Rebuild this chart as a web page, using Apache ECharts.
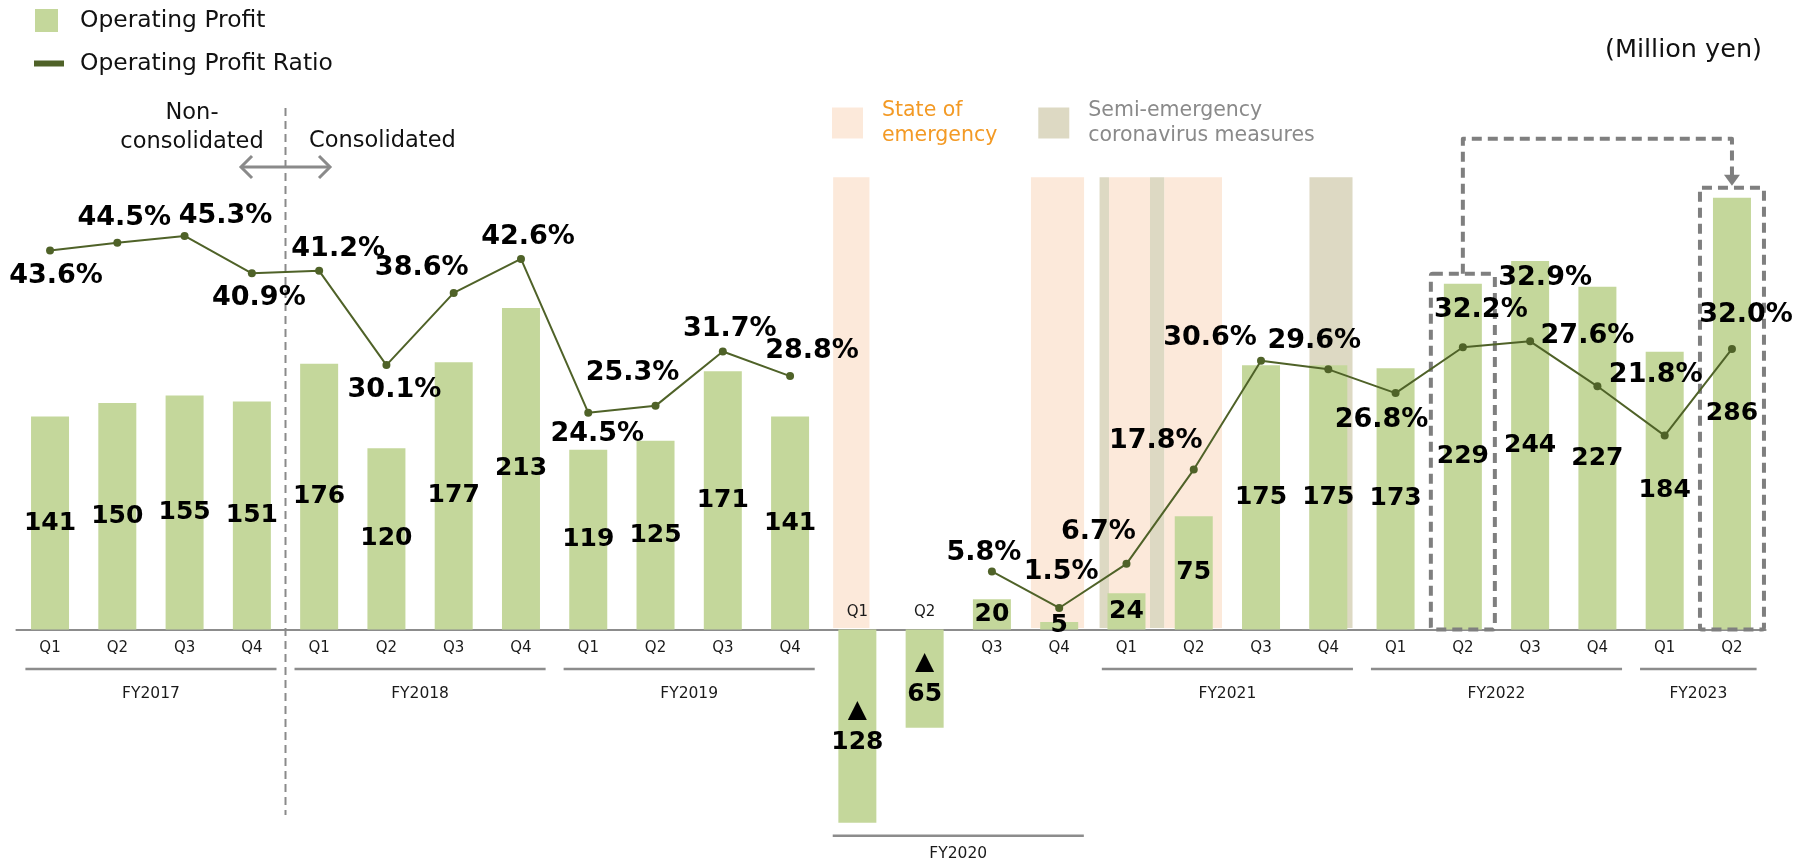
<!DOCTYPE html>
<html>
<head>
<meta charset="utf-8">
<script src="https://cdn.jsdelivr.net/npm/echarts@6/dist/echarts.min.js"></script>
<style>
  html, body { margin: 0; padding: 0; background: #ffffff; }
  #chart { width: 1813px; height: 861px; }
</style>
</head>
<body>
<div id="chart"></div>
<script>
// ---------------- data ----------------
const quarters = ['Q1','Q2','Q3','Q4','Q1','Q2','Q3','Q4','Q1','Q2','Q3','Q4',
                  'Q1','Q2','Q3','Q4','Q1','Q2','Q3','Q4','Q1','Q2','Q3','Q4','Q1','Q2'];
const operatingProfit = [141,150,155,151, 176,120,177,213, 119,125,171,141,
                         -128,-65,20,5, 24,75,175,175, 173,229,244,227, 184,286];
const profitRatio = [43.6,44.5,45.3,40.9, 41.2,30.1,38.6,42.6, 24.5,25.3,31.7,28.8,
                     null,null,5.8,1.5, 6.7,17.8,30.6,29.6, 26.8,32.2,32.9,27.6, 21.8,32.0];
const fiscalYears = ['FY2017','FY2018','FY2019','FY2020','FY2021','FY2022','FY2023'];
const fyFirst = [0,4,8,12,16,20,24];
const fyLast  = [3,7,11,15,19,23,25];
// periods in category units (quarter index, fractional = position within the quarter)
const emergencyPeriods = [[11.64,12.18],[14.58,15.37],[15.74,16.35],[16.56,17.42]];
const semiEmergencyPeriods = [[15.60,15.74],[16.35,16.56],[18.72,19.36]];
const consolidationBoundary = 3.5;   // between FY2017 Q4 and FY2018 Q1
const compareFrom = 21, compareTo = 25; // FY2022 Q2 -> FY2023 Q2
const shadeTop = 299.5;

// ---------------- layout / style (not data) ----------------
const FONT = "'DejaVu Sans', Verdana, sans-serif";
const ratioLabelOffsets = [
  [6,26],[7,-25],[41,-20],[7,25],[19,-22],[8,25],[-32,-25],[7,-22],[9,21],[-23,-33],[7,-23],[22,-25],
  null,null,
  [-8,-18],[2,-36],[-28,-32],[-38,-29],[-51,-23],[-14,-28],[-14,27],[18,-37],[15,-63],[-10,-50],[-9,-61],[14,-34]
];
const BAR_COLOR = '#C4D79B';
const LINE_COLOR = '#4F6228';
const EMERG_COLOR = '#FCE9DA';
const SEMI_COLOR = '#DDD9C3';

function shadeRender(color) {
  return function (params, api) {
    const start = api.value(2), end = api.value(3);
    const c0 = api.coord([0, 0]);
    const band = api.size([1, 0])[0];
    const x1 = c0[0] + start * band, x2 = c0[0] + end * band;
    const yTop = api.coord([0, shadeTop])[1];
    const yBot = c0[1] - 1.5;
    return { type: 'rect', shape: { x: x1, y: yTop, width: x2 - x1, height: yBot - yTop },
             style: { fill: color } };
  };
}

const chart = echarts.init(document.getElementById('chart'), null, { renderer: 'canvas' });

const option = {
  animation: false,
  backgroundColor: '#ffffff',
  textStyle: { fontFamily: FONT },
  title: {
    text: '(Million yen)', right: 51, top: 37, padding: 0,
    textStyle: { fontSize: 25.5, fontWeight: 'normal', color: '#111', fontFamily: FONT }
  },
  legend: [
    {
      data: ['Operating Profit'], left: 35, top: 9, padding: 0, icon: 'rect',
      itemWidth: 23, itemHeight: 23, selectedMode: false,
      textStyle: { fontSize: 23.4, color: '#111', fontFamily: FONT, padding: [0, 0, 0, 17] }
    },
    {
      data: ['Operating Profit Ratio'], left: 34, top: 52, padding: 0, icon: 'rect',
      itemWidth: 30, itemHeight: 6, selectedMode: false,
      textStyle: { fontSize: 23.4, color: '#111', fontFamily: FONT, padding: [0, 0, 0, 11] }
    },
    {
      data: [
        { name: 'State of emergency', textStyle: { color: '#F39A25' }, itemStyle: { color: EMERG_COLOR } },
        { name: 'Semi-emergency coronavirus measures', textStyle: { color: '#8A8A8A' }, itemStyle: { color: SEMI_COLOR } }
      ],
      left: 832, top: 98, padding: 0, icon: 'rect', orient: 'horizontal',
      itemWidth: 31, itemHeight: 31, itemGap: 41, selectedMode: false,
      formatter: function (name) {
        return name === 'State of emergency' ? 'State of\nemergency' : 'Semi-emergency\ncoronavirus measures';
      },
      textStyle: { fontSize: 20.5, lineHeight: 25, fontFamily: FONT, padding: [0, 0, 0, 14] }
    }
  ],
  grid: { left: 16.4, right: 47.4, top: 175, bottom: 18, containLabel: false, outerBoundsMode: 'none' },
  xAxis: {
    type: 'category', data: quarters, boundaryGap: true,
    axisLine: { onZero: true, onZeroAxisIndex: 0, lineStyle: { color: '#8c8c8c', width: 2 } },
    axisTick: { show: false },
    splitLine: { show: false },
    axisLabel: { show: false }
  },
  yAxis: [
    { type: 'value', min: -141.4, max: 301, show: false, splitLine: { show: false } },
    { type: 'value', min: -26.17, max: 52.48, show: false, splitLine: { show: false } }
  ],
  series: [
    {
      name: 'State of emergency', type: 'custom', z: 1, silent: true, clip: false,
      itemStyle: { color: EMERG_COLOR },
      encode: { x: 0, y: 1 },
      data: emergencyPeriods.map(p => [Math.floor(p[0]), 0, p[0], p[1]]),
      renderItem: shadeRender(EMERG_COLOR)
    },
    {
      name: 'Semi-emergency coronavirus measures', type: 'custom', z: 1, silent: true, clip: false,
      itemStyle: { color: SEMI_COLOR },
      encode: { x: 0, y: 1 },
      data: semiEmergencyPeriods.map(p => [Math.floor(p[0]), 0, p[0], p[1]]),
      renderItem: shadeRender(SEMI_COLOR)
    },
    {
      name: 'Operating Profit', type: 'bar', z: 2, barWidth: 38,
      itemStyle: { color: BAR_COLOR },
      data: operatingProfit,
      label: {
        show: true, position: 'inside', color: '#000', fontSize: 25, fontWeight: 'bold',
        fontFamily: FONT, lineHeight: 32,
        formatter: function (p) { return p.value < 0 ? '▲\n' + Math.abs(p.value) : String(p.value); }
      }
    },
    {
      // quarter labels: below the axis, or above it where the bar is negative
      type: 'custom', z: 3, silent: true, clip: false,
      encode: { x: 0, y: 1 },
      data: quarters.map((q, i) => [i, 0]),
      renderItem: function (params, api) {
        const idx = params.dataIndex;
        const p = api.coord([idx, 0]);
        const y = operatingProfit[idx] < 0 ? p[1] - 17.5 : p[1] + 18.5;
        return { type: 'text', style: { text: quarters[idx], x: p[0], y: y, align: 'center',
                 verticalAlign: 'middle', fontSize: 15, fontFamily: FONT, fill: '#1a1a1a' } };
      }
    },
    {
      // consolidation divider annotation
      type: 'custom', z: 3, silent: true, clip: false,
      encode: { x: 0, y: 1 },
      data: [[Math.floor(consolidationBoundary), 0]],
      renderItem: function (params, api) {
        const c0 = api.coord([0, 0]);
        const band = api.size([1, 0])[0];
        const bx = c0[0] + consolidationBoundary * band;
        const gray = '#8a8a8a';
        const ay = 167, half = 44.5, arm = 11;
        return {
          type: 'group',
          children: [
            { type: 'line', shape: { x1: bx, y1: 108, x2: bx, y2: 815 },
              style: { stroke: '#8a8a8a', lineWidth: 2, lineDash: [8, 5] } },
            { type: 'line', shape: { x1: bx - half, y1: ay, x2: bx + half, y2: ay },
              style: { stroke: gray, lineWidth: 3 } },
            { type: 'polyline', shape: { points: [[bx - half + arm, ay - arm], [bx - half, ay], [bx - half + arm, ay + arm]] },
              style: { stroke: gray, lineWidth: 3, fill: 'none' } },
            { type: 'polyline', shape: { points: [[bx + half - arm, ay - arm], [bx + half, ay], [bx + half - arm, ay + arm]] },
              style: { stroke: gray, lineWidth: 3, fill: 'none' } },
            { type: 'text', style: { text: 'Non-\nconsolidated', x: bx - 93.5, y: 128, align: 'center',
                verticalAlign: 'middle', fontSize: 22.5, lineHeight: 29, fontFamily: FONT, fill: '#111' } },
            { type: 'text', style: { text: 'Consolidated', x: bx + 23.5, y: 141, align: 'left',
                verticalAlign: 'middle', fontSize: 22.5, fontFamily: FONT, fill: '#111' } }
          ]
        };
      }
    },
    {
      // fiscal year group brackets
      type: 'custom', z: 3, silent: true, clip: false,
      encode: { x: 0, y: 1 },
      data: fiscalYears.map((n, i) => [fyFirst[i], 0]),
      renderItem: function (params, api) {
        const i = params.dataIndex;
        const first = fyFirst[i], last = fyLast[i];
        const band = api.size([1, 0])[0];
        const zeroY = api.coord([first, 0])[1];
        const x1 = api.coord([first, 0])[0] - band / 2 + 9;
        const x2 = api.coord([last, 0])[0] + band / 2 - 9;
        const minV = Math.min(0, ...operatingProfit.slice(first, last + 1));
        let lineY, labelY;
        if (minV < 0) {
          const by = api.coord([first, minV])[1];
          lineY = by + 13; labelY = by + 31;
        } else {
          lineY = zeroY + 39.5; labelY = zeroY + 64.5;
        }
        return {
          type: 'group',
          children: [
            { type: 'line', shape: { x1: x1, y1: lineY, x2: x2, y2: lineY },
              style: { stroke: '#8c8c8c', lineWidth: 2.5 } },
            { type: 'text', style: { text: fiscalYears[i], x: (x1 + x2) / 2, y: labelY, align: 'center',
                verticalAlign: 'middle', fontSize: 15.5, fontFamily: FONT, fill: '#1a1a1a' } }
          ]
        };
      }
    },
    {
      // comparison boxes FY2022 Q2 -> FY2023 Q2
      type: 'custom', z: 4, silent: true, clip: false,
      encode: { x: 0, y: 1 },
      data: [[compareFrom, 0]],
      renderItem: function (params, api) {
        const zeroY = api.coord([0, 0])[1];
        const xa = api.coord([compareFrom, 0])[0], xb = api.coord([compareTo, 0])[0];
        const ta = api.coord([compareFrom, operatingProfit[compareFrom]])[1] - 10;
        const tb = api.coord([compareTo, operatingProfit[compareTo]])[1] - 10;
        const hw = 32, cy = tb - 49;
        const ds = { stroke: '#7f7f7f', lineWidth: 4, lineDash: [10, 6], fill: 'none', lineJoin: 'round' };
        return {
          type: 'group',
          children: [
            { type: 'rect', shape: { x: xa - hw, y: ta, width: 2 * hw, height: zeroY - ta, r: 2 }, style: ds },
            { type: 'rect', shape: { x: xb - hw, y: tb, width: 2 * hw, height: zeroY - tb, r: 2 }, style: ds },
            { type: 'polyline', shape: { points: [[xa, ta], [xa, cy], [xb, cy], [xb, tb - 12]] }, style: ds },
            { type: 'polygon', shape: { points: [[xb - 8, tb - 13], [xb + 8, tb - 13], [xb, tb - 2]] },
              style: { fill: '#7f7f7f' } }
          ]
        };
      }
    },
    {
      name: 'Operating Profit Ratio', type: 'line', yAxisIndex: 1, z: 5,
      symbol: 'circle', symbolSize: 8, connectNulls: false,
      itemStyle: { color: LINE_COLOR },
      lineStyle: { color: LINE_COLOR, width: 2 },
      data: profitRatio.map((v, i) => v == null ? '-' : { value: v, label: { offset: ratioLabelOffsets[i] } }),
      label: {
        show: true, position: 'inside', color: '#000', fontSize: 27, fontWeight: 'bold', fontFamily: FONT,
        formatter: function (p) { return Number(p.value).toFixed(1) + '%'; }
      }
    }
  ]
};

chart.setOption(option);
</script>
</body>
</html>
